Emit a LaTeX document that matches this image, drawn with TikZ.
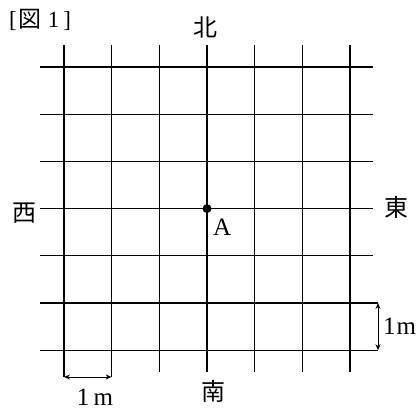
\documentclass[tikz,border=0pt]{standalone}
\usepackage{fontspec}
\setmainfont{Liberation Serif}
\newfontfamily\cjk{Noto Sans CJK JP}
\usetikzlibrary{arrows.meta}
\begin{document}
\begin{tikzpicture}[x=1pt,y=-1pt,
  gridline/.style={line width=1.3pt,black},
  dimline/.style={line width=0.9pt,{Stealth[length=6pt,width=5pt]}-{Stealth[length=6pt,width=5pt]}},
  lbl/.style={font=\fontsize{25}{25}\selectfont,inner sep=0pt},
  jlbl/.style={font=\fontsize{24}{24}\selectfont\cjk,inner sep=0pt}]
\useasboundingbox (0,0) rectangle (417,412);
% vertical lines
\foreach \i/\yb in {0/377,1/377,2/372,3/372,4/372,5/372,6/372}{
  \draw[gridline] ({64+47.67*\i},45) -- ({64+47.67*\i},\yb);
}
% horizontal lines
\foreach \j/\xe in {0/373,1/373,2/373,3/373,4/373,5/378,6/378}{
  \draw[gridline] (40,{67+47.2*\j}) -- (\xe,{67+47.2*\j});
}
% point A
\coordinate (A) at (207,208.6);
\fill (A) circle (4.5);
\node[lbl,anchor=north west] (Alab) at (213,219) {A};
% direction labels
\node[jlbl] (north) at (205,27) {北};
\node[jlbl] (south) at (213,391) {南};
\node[jlbl,anchor=east] (west) at (37,213) {西};
\node[jlbl,anchor=west] (east) at (384,207) {東};
\node[font=\fontsize{23}{23}\selectfont,anchor=west,inner sep=0pt] (title) at (9,20) {[\kern2pt{\cjk 図}\kern6pt1\kern4pt]};
% dimension arrows
\coordinate (b1) at (64,377);
\coordinate (b2) at (111.67,377);
\draw[dimline] (b1) -- (b2);
\node[lbl] (bl) at (95,397) {1\,m};
\coordinate (r1) at (378,303);
\coordinate (r2) at (378,350.2);
\draw[dimline] (r1) -- (r2);
\node[lbl,anchor=west] (rl) at (383,326) {1\kern1pt m};
\end{tikzpicture}
\end{document}
